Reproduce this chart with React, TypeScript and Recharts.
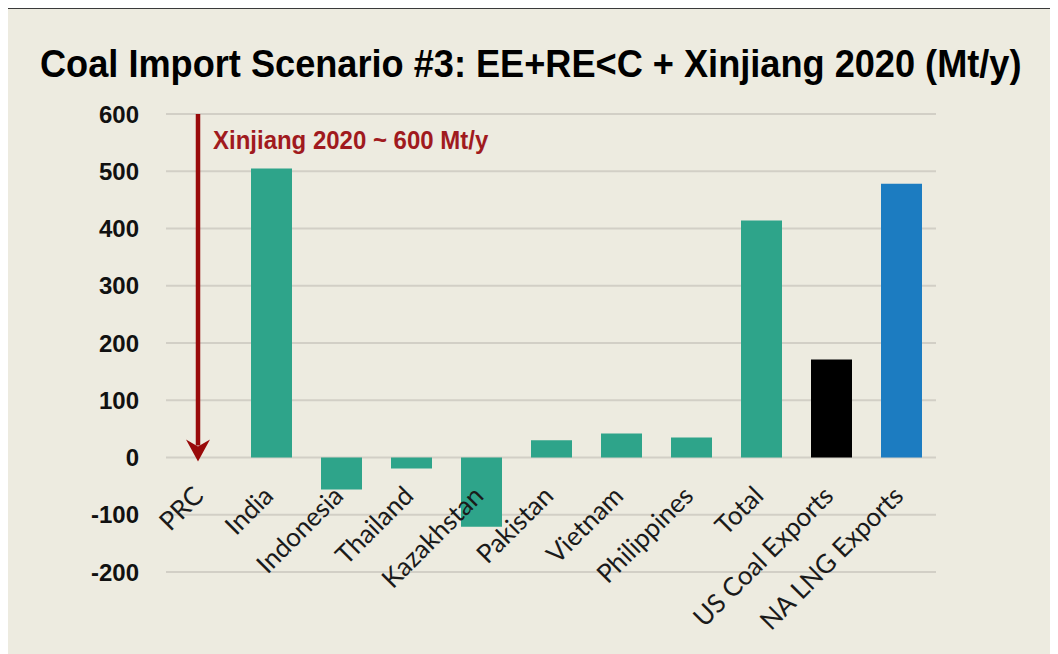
import React from 'react';
import { BarChart, Bar, XAxis, YAxis, CartesianGrid, Cell, ReferenceLine, ReferenceDot } from 'recharts';

const categories = ['PRC', 'India', 'Indonesia', 'Thailand', 'Kazakhstan', 'Pakistan', 'Vietnam', 'Philippines', 'Total', 'US Coal Exports', 'NA LNG Exports'];
const values = [0, 505, -56, -19, -121, 30, 42, 35, 414, 171, 478];
const barColors = ['#2ea48a', '#2ea48a', '#2ea48a', '#2ea48a', '#2ea48a', '#2ea48a', '#2ea48a', '#2ea48a', '#2ea48a', '#000000', '#1c7cc1'];
const yTicks = [-200, -100, 0, 100, 200, 300, 400, 500, 600];
const titleText = 'Coal Import Scenario #3: EE+RE<C + Xinjiang 2020 (Mt/y)';
const arrowLabel = 'Xinjiang 2020 ~ 600 Mt/y';
const arrowFrom = 600;
const arrowTo = 0;
const labelBase = 0;

const data = categories.map((name, i) => ({ name, value: values[i] }));

const ArrowShape = (props: any) => {
  const { x1, y1, x2, y2 } = props;
  const color = '#990a0a';
  const tx = x1 + 12;
  const ty = y1 + 35;
  return (
    <g>
      <line x1={x1 - 3} y1={y1} x2={x2 - 3} y2={y2 - 12} stroke={color} strokeWidth={4.5} />
      <path d={`M ${x2 - 15} ${y2 - 18} L ${x2 - 3} ${y2 + 4} L ${x2 + 9} ${y2 - 18} L ${x2 - 3} ${y2 - 11} Z`} fill={color} />
      <text x={0} y={0} transform={`translate(${tx} ${ty}) scale(0.96 1.04)`} fill="#a01a1e" fontFamily="'Liberation Sans', Arial, sans-serif" fontWeight="bold" fontSize={25}>
        {arrowLabel}
      </text>
    </g>
  );
};

const makeLabel = (text: string) => (props: any) => {
  const cx = Number(props.cx) + 4;
  const cy = Number(props.cy) + 40;
  return (
    <text x={cx} y={cy} transform={`rotate(-45 ${cx} ${cy})`} textAnchor="end" fill="#1a1a1a" fontFamily="Lato, 'Open Sans', sans-serif" fontSize={26}>
      {text}
    </text>
  );
};

export default function App() {
  return (
    <div style={{ position: 'relative', width: 1050, height: 645, background: '#edebe0', borderTop: '1px solid #3a3a3a', borderLeft: '1px solid #6a6a6a', marginLeft: -1 }}>
      <BarChart width={1050} height={645} data={data} margin={{ top: 105, right: 122, bottom: 82, left: 0 }} style={{ position: 'absolute', left: 0, top: 0 }}>
        <CartesianGrid vertical={false} stroke="#d2cfc6" strokeWidth={2} />
        <XAxis dataKey="name" hide />
        <YAxis width={158} domain={[-200, 600]} ticks={yTicks} axisLine={false} tickLine={false} tickMargin={21} interval={0}
          tick={{ fill: '#111', fontFamily: "'Liberation Sans', Arial, sans-serif", fontWeight: 'bold', fontSize: 24 }} />
        <Bar dataKey="value" barSize={41} isAnimationActive={false}>
          {data.map((d, i) => (
            <Cell key={d.name} fill={barColors[i]} />
          ))}
        </Bar>
        <ReferenceLine segment={[{ x: categories[0], y: arrowFrom }, { x: categories[0], y: arrowTo }]} ifOverflow="visible" shape={ArrowShape} />
        {categories.map((c) => (
          <ReferenceDot key={c} x={c} y={labelBase} r={0} ifOverflow="visible" shape={makeLabel(c)} />
        ))}
      </BarChart>
      <svg width={1050} height={110} style={{ position: 'absolute', left: 0, top: 0 }}>
        <text x={0} y={0} transform="translate(32 68) scale(0.952 1)" fill="#000" fontFamily="'Liberation Sans', Arial, sans-serif" fontWeight="bold" fontSize={38}>
          {titleText}
        </text>
      </svg>
    </div>
  );
}
